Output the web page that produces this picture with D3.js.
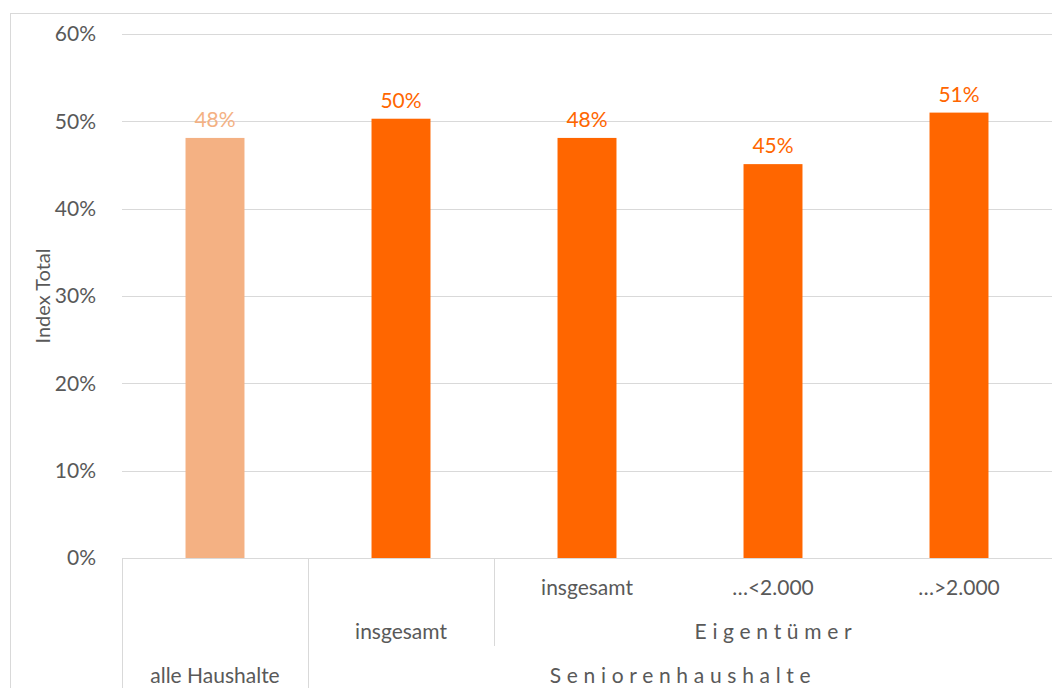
<!DOCTYPE html>
<html>
<head>
<meta charset="utf-8">
<script src="https://cdn.jsdelivr.net/npm/d3@7"></script>
<style>
  body { margin: 0; background: #fff; }
  svg { display: block; font-family: Lato, "Open Sans", sans-serif; }
</style>
</head>
<body>
<div id="chart"></div>
<script>
// data
const categories = ["alle", "sen_ges", "eig_ges", "eig_lt2000", "eig_gt2000"];
const values = [48.1, 50.3, 48.1, 45.1, 51.0];
const barColors = ["#F4B183", "#FF6600", "#FF6600", "#FF6600", "#FF6600"];
const yTicks = [0, 10, 20, 30, 40, 50, 60];

// multi-level category axis
const level1Labels = ["", "", "insgesamt", "…<2.000", "…>2.000"];
const level2Groups = [
  { label: "insgesamt", from: 1, to: 1, spaced: false },
  { label: "Eigentümer", from: 2, to: 4, spaced: true }
];
const level3Groups = [
  { label: "alle Haushalte", from: 0, to: 0, spaced: false },
  { label: "Seniorenhaushalte", from: 1, to: 4, spaced: true }
];

const width = 1052, height = 688;
const margin = { top: 34, right: 0, bottom: 130, left: 122 };
const plotW = width - margin.left - margin.right;
const plotH = height - margin.top - margin.bottom;
const fontSize = "21px";

const svg = d3.select("#chart").append("svg")
  .attr("width", width)
  .attr("height", height);

// outer chart border
svg.append("rect")
  .attr("x", 10.5).attr("y", 13.5)
  .attr("width", width + 20).attr("height", height + 20)
  .attr("fill", "none").attr("stroke", "#d9d9d9");

const g = svg.append("g")
  .attr("transform", `translate(${margin.left},${margin.top})`);

const x = d3.scaleBand()
  .domain(categories)
  .range([0, plotW])
  .paddingInner(0.683)
  .paddingOuter(0.3415);

const y = d3.scaleLinear().domain([0, 60]).range([plotH, 0]);

// gridlines
g.selectAll(".grid")
  .data(yTicks.filter(d => d > 0))
  .join("line")
  .attr("x1", 0).attr("x2", plotW)
  .attr("y1", d => Math.round(y(d)) + 0.5)
  .attr("y2", d => Math.round(y(d)) + 0.5)
  .attr("stroke", "#d9d9d9");

// y axis labels
const yAxis = g.append("g")
  .attr("transform", "translate(-23,0)")
  .call(d3.axisLeft(y).tickValues(yTicks).tickFormat(d => d + "%").tickSize(0));
yAxis.select(".domain").remove();
yAxis.selectAll("text")
  .attr("fill", "#595959")
  .style("font-size", fontSize)
  .style("font-family", "Lato, 'Open Sans', sans-serif");

// y title
svg.append("text")
  .attr("transform", `translate(50,${margin.top + plotH / 2}) rotate(-90)`)
  .attr("text-anchor", "middle")
  .attr("fill", "#595959")
  .style("font-size", "20px")
  .text("Index Total");

// bars
g.selectAll(".bar")
  .data(values)
  .join("rect")
  .attr("x", (d, i) => x(categories[i]))
  .attr("y", d => y(d))
  .attr("width", x.bandwidth())
  .attr("height", d => plotH - y(d))
  .attr("fill", (d, i) => barColors[i]);

// value labels
g.selectAll(".val")
  .data(values)
  .join("text")
  .attr("x", (d, i) => x(categories[i]) + x.bandwidth() / 2)
  .attr("y", d => y(d) - 11)
  .attr("text-anchor", "middle")
  .attr("fill", (d, i) => barColors[i])
  .style("font-size", fontSize)
  .text(d => Math.round(d) + "%");

// category axis
const step = x.step();
const slotL = i => i * step;
const slotR = i => (i + 1) * step;
const axisColor = "#d9d9d9";
const ax = g.append("g").attr("transform", `translate(0,${plotH})`);
const rowH = 44;

ax.append("line")
  .attr("x1", 0).attr("x2", plotW).attr("y1", 0.5).attr("y2", 0.5)
  .attr("stroke", axisColor);

// dividers
const dividers = [
  { at: 0, depth: 3 },
  { at: 1, depth: 3 },
  { at: 2, depth: 2 },
  { at: 5, depth: 3 }
];
ax.selectAll(".div")
  .data(dividers)
  .join("line")
  .attr("x1", d => slotL(d.at) + 0.5).attr("x2", d => slotL(d.at) + 0.5)
  .attr("y1", 0).attr("y2", d => d.depth === 3 ? 140 : 88)
  .attr("stroke", axisColor);

ax.selectAll(".l1")
  .data(level1Labels)
  .join("text")
  .attr("x", (d, i) => slotL(i) + step / 2)
  .attr("y", 30)
  .attr("dy", "0.35em")
  .attr("text-anchor", "middle")
  .attr("fill", "#595959")
  .style("font-size", fontSize)
  .text(d => d);

function groupRow(groups, yy) {
  ax.append("g").selectAll("text")
    .data(groups)
    .join("text")
    .attr("x", d => (slotL(d.from) + slotR(d.to)) / 2 + (d.spaced ? 3 : 0))
    .attr("y", yy)
    .attr("dy", "0.35em")
    .attr("text-anchor", "middle")
    .attr("fill", "#595959")
    .style("font-size", fontSize)
    .style("letter-spacing", d => d.spaced ? "5.7px" : null)
    .text(d => d.label);
}
groupRow(level2Groups, 30 + rowH);
groupRow(level3Groups, 30 + 2 * rowH);
</script>
</body>
</html>
